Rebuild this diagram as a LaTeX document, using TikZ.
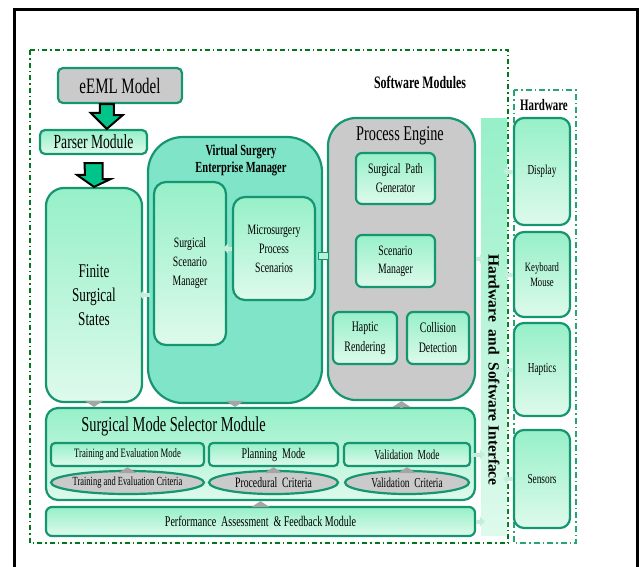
\documentclass[tikz,border=0pt]{standalone}
\usepackage{fontspec}
\setmainfont{Liberation Serif}[FakeStretch=0.68]
\newfontfamily\plainserif{Liberation Serif}
\usetikzlibrary{shapes.geometric,arrows.meta,calc}

\definecolor{bordergreen}{RGB}{22,150,112}
\definecolor{mintTop}{RGB}{150,240,200}
\definecolor{mintBot}{RGB}{222,250,236}
\definecolor{vsemfill}{RGB}{128,228,200}
\definecolor{boxgray}{RGB}{202,202,202}
\definecolor{swgreen}{RGB}{0,120,30}
\definecolor{hwgreen}{RGB}{40,165,115}
\definecolor{linkgreen}{RGB}{196,238,218}
\definecolor{flowgray}{RGB}{165,165,165}
\definecolor{arrowfill}{RGB}{0,196,138}

\begin{document}
\begin{tikzpicture}[x=1pt,y=-1pt]
\tikzstyle{every node}=[inner sep=0pt, align=center]
\tikzstyle{module}=[draw=bordergreen, line width=2.2pt, rounded corners=5pt, top color=mintTop, bottom color=mintBot]
\tikzstyle{greybox}=[draw=bordergreen, line width=2.2pt, fill=boxgray]
\tikzstyle{device}=[module, rounded corners=10pt, minimum width=56, font=\fontsize{13.7}{15}\selectfont]
\tikzstyle{mode}=[module, rounded corners=4pt, minimum height=23]
\tikzstyle{criteria}=[greybox, ellipse, inner xsep=-6pt, minimum height=23]
\tikzstyle{title}=[font=\fontsize{17.5}{20}\selectfont\bfseries]
\tikzstyle{link}=[draw=linkgreen, line width=4pt, shorten >=-4pt, -{Triangle[width=10pt,length=5pt]}]
\tikzstyle{flow}=[draw=flowgray, line width=3pt, -{Triangle[width=18pt,length=6pt]}]
\tikzstyle{bigarrow}=[draw=black, line width=2pt, fill=arrowfill, line join=miter]

\useasboundingbox (0,0) rectangle (639,566);
\draw[line width=3pt] (14,9) rectangle (637,590);

% software and hardware frames
\draw[swgreen, line width=1.4pt, dash pattern=on 5pt off 3pt on 1.5pt off 3pt] (30,50) rectangle (508,543);
\draw[hwgreen, line width=1.4pt, dash pattern=on 6pt off 3pt on 1.5pt off 3pt] (514,90) rectangle (576,543);
\node[title] (swt) at (420,82) {Software Modules};
\node[title, font=\fontsize{16}{18}\selectfont\bfseries] (hwt) at (544,105) {Hardware};

% model and parser
\node[greybox, rounded corners=5pt, minimum width=124, minimum height=35, font=\fontsize{22}{24}\selectfont] (eeml) at (120,85.5) {eEML Model};
\node[module, minimum width=107, minimum height=24, font=\fontsize{20}{22}\selectfont] (parser) at (93.5,142) {Parser Module};
\node[module, rounded corners=18pt, minimum width=96, minimum height=214, font=\fontsize{19.4}{24}\selectfont] (fss) at (94,295) {Finite\\Surgical\\States};

% virtual surgery enterprise manager
\node[draw=bordergreen, line width=2.2pt, fill=vsemfill, rounded corners=35pt, minimum width=174, minimum height=266] (vsem) at (235,270) {};
\node[font=\fontsize{15.4}{17}\selectfont\bfseries] (vsemt) at (241,160) {Virtual Surgery\\Enterprise Manager};
\node[module, rounded corners=12pt, minimum width=72, minimum height=163, font=\fontsize{14.3}{19}\selectfont] (ssm) at (190,263.5) {Surgical\\Scenario\\Manager};
\node[module, rounded corners=12pt, minimum width=82, minimum height=103, font=\fontsize{14.3}{19}\selectfont] (mps) at (274,248.5) {Microsurgery\\Process\\Scenarios};

% process engine
\node[greybox, rounded corners=28pt, minimum width=147, minimum height=282] (pe) at (401.5,259) {};
\node[font=\fontsize{21}{23}\selectfont] (pet) at (400,136) {Process Engine};
\node[module, rounded corners=6pt, minimum width=79, minimum height=51, font=\fontsize{14.4}{19}\selectfont] (spg) at (395.5,178.5) {Surgical~~Path\\Generator};
\node[module, rounded corners=6pt, minimum width=79, minimum height=52, font=\fontsize{14.3}{18}\selectfont] (scm) at (395.5,261) {Scenario\\Manager};
\node[module, rounded corners=6pt, minimum width=64, minimum height=52, font=\fontsize{14.5}{20}\selectfont] (hr) at (365,338) {Haptic\\Rendering};
\node[module, rounded corners=6pt, minimum width=62, minimum height=52, font=\fontsize{14.5}{20}\selectfont] (cd) at (438,338) {Collision\\Detection};

% interface bar and devices
\node[draw=none, top color=mintTop, bottom color=mintBot, minimum width=26, minimum height=417] (hsi) at (494,326.5) {};
\node[rotate=-90, font=\plainserif\fontsize{15.5}{18}\selectfont\bfseries] (hsit) at (494,370) {Hardware~~and~~Software~Interface};
\node[device, minimum height=107] (display) at (542,171.5) {Display};
\node[device, minimum height=85, font=\fontsize{12.7}{15}\selectfont] (kbd) at (542,274.5) {Keyboard\\Mouse};
\node[device, minimum height=93] (haptics) at (542,369.5) {Haptics};
\node[device, minimum height=98] (sensors) at (542,479) {Sensors};

% mode selector
\node[module, rounded corners=12pt, minimum width=429, minimum height=92] (sms) at (260.5,454) {};
\node[font=\fontsize{21.2}{23}\selectfont] (smst) at (173.5,426) {Surgical Mode Selector Module};
\node[mode, minimum width=153, font=\fontsize{12.8}{14}\selectfont] (tem) at (127.5,454.5) {Training and Evaluation Mode};
\node[mode, minimum width=129, font=\fontsize{14.7}{16}\selectfont] (pm) at (273.5,454.5) {Planning~~Mode};
\node[mode, minimum width=126, font=\fontsize{13.8}{16}\selectfont] (vm) at (407,454.5) {Validation~~Mode};
\node[criteria, minimum width=153, font=\fontsize{12.4}{14}\selectfont] (tec) at (127.5,482.5) {Training and Evaluation Criteria};
\node[criteria, minimum width=129, font=\fontsize{14.3}{16}\selectfont] (pc) at (273.5,482.5) {Procedural~~Criteria};
\node[criteria, minimum width=124, font=\fontsize{13.7}{16}\selectfont] (vc) at (407,482.5) {Validation~~Criteria};
\node[module, rounded corners=6pt, minimum width=429, minimum height=29, font=\fontsize{14.75}{16}\selectfont] (pafm) at (260.5,521.5) {Performance~~Assessment~~\&~Feedback Module};

% block arrows
\path ($(eeml.south)!.5!(parser.north)$) coordinate (m1);
\draw[bigarrow] (m1 |- eeml.south) ++(-7,0) -- ++(14,0) -- ++(0,11) -- ++(9,0) -- (m1 |- parser.north) -- ++(-16,-16) -- ++(9,0) -- cycle;
\draw[bigarrow] (parser.south) ++(-9,8) -- ++(18,0) -- ++(0,16) -- ++(8,0) -- (fss.north) -- ++(-17,-12) -- ++(8,0) -- cycle;

% links
\draw[link, shorten <=-3pt] (fss.east -| vsem.west) -- (fss.east);
\draw[link] (mps.west) -- (mps.west -| ssm.east);
\node[draw=bordergreen, line width=1pt, fill=mintTop!70!white, minimum width=10, minimum height=7] (jn) at (323,256) {};
\draw[link] (pe.east) -- (pe.east -| hsi.west);
\draw[link] (display.west) -- (display.west -| hsi.east);
\draw[link] (kbd.west) -- (kbd.west -| hsi.east);
\draw[link] (haptics.west) -- (haptics.west -| hsi.east);
\draw[link] (sensors.west) -- (sensors.west -| hsi.east);
\draw[link] (vm.east) -- (vm.east -| hsi.west);
\draw[link] (pafm.east) -- (pafm.east -| hsi.west);

% flows
\draw[flow] (fss.south) -- (fss.south |- sms.north);
\draw[flow] (vsem.south) -- (vsem.south |- sms.north);
\draw[flow] (pe.south |- sms.north) -- (pe.south);
\draw[flow] (tec.north) -- (tem.south);
\draw[flow] (pc.north) -- (pm.south);
\draw[flow] (vc.north) -- (vm.south);
\draw[flow] (pafm.north) -- (pafm.north |- sms.south);

\end{tikzpicture}
\end{document}
